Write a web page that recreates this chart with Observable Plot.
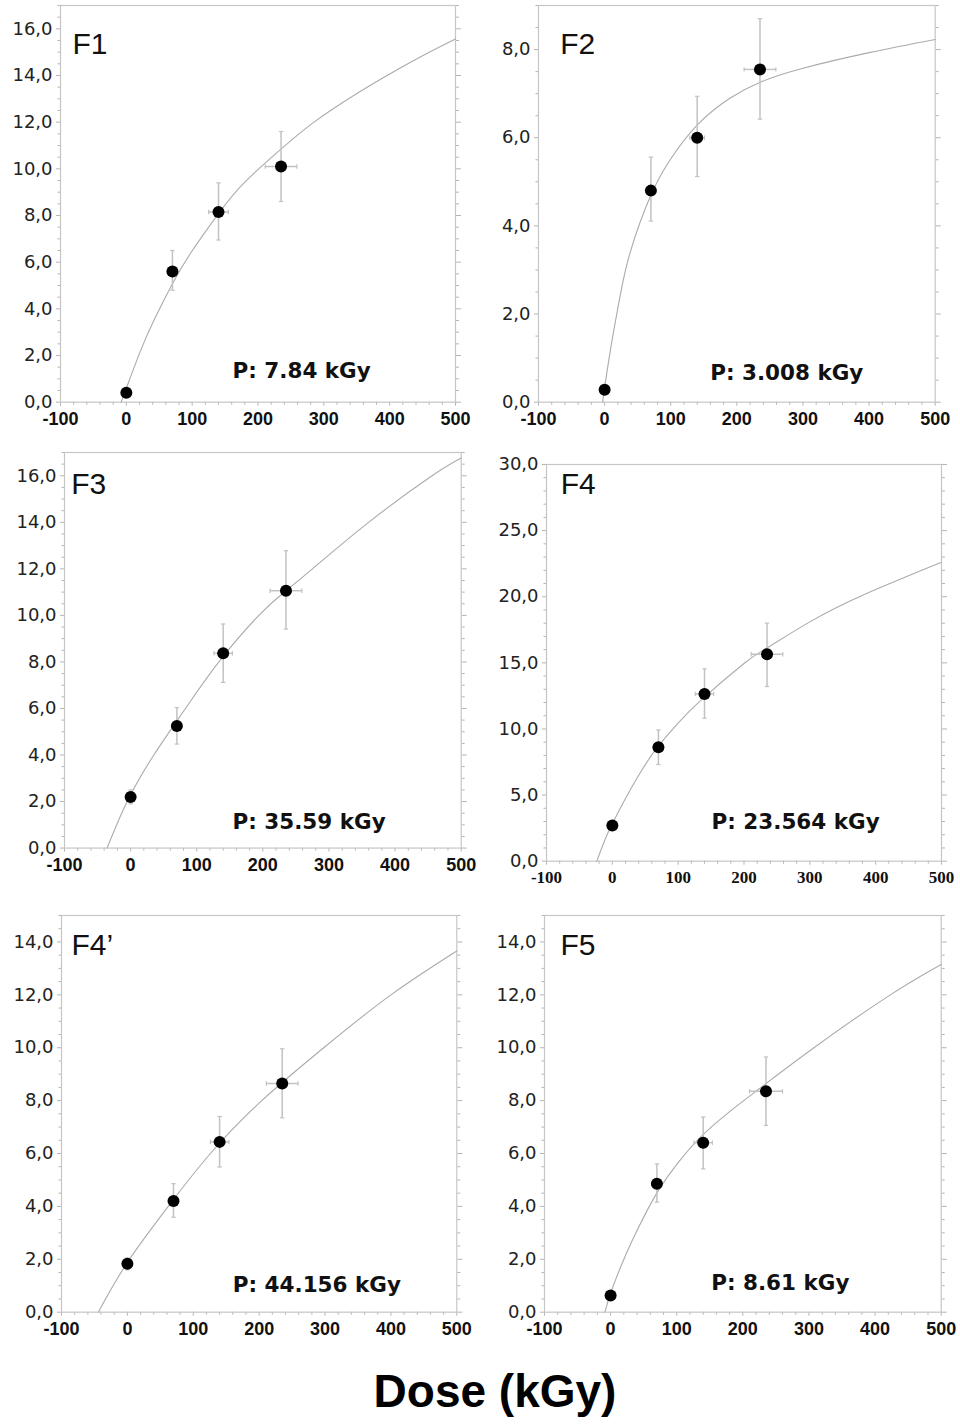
<!DOCTYPE html>
<html>
<head>
<meta charset="utf-8">
<script src="https://cdn.jsdelivr.net/npm/d3@7"></script>
<script src="https://cdn.jsdelivr.net/npm/@observablehq/plot@0.6"></script>
<style>
  html, body { margin: 0; padding: 0; background: #fff; }
  #chart { position: relative; width: 960px; height: 1427px; overflow: hidden; background: #fff; }
  .panel { position: absolute; }
  #xlabel { position: absolute; left: 0; width: 990px; top: 1368px; text-align: center;
            font-family: "Liberation Sans", Arial, sans-serif; font-weight: bold; font-size: 46px; line-height: 46px; color: #000; }
</style>
</head>
<body>
<div id="chart"><div id="xlabel">Dose (kGy)</div></div>
<script>
// ---------- data ----------
const dose = [0, 70, 140, 235];
const panelNames = ["F1", "F2", "F3", "F4", "F4’", "F5"];
const paleodose = ["P: 7.84 kGy", "P: 3.008 kGy", "P: 35.59 kGy", "P: 23.564 kGy", "P: 44.156 kGy", "P: 8.61 kGy"];
const xTicks = [-100, 0, 100, 200, 300, 400, 500];
const yMax = [17, 9, 17, 30, 15, 15];
const yTicks = [
  [0, 2, 4, 6, 8, 10, 12, 14, 16],
  [0, 2, 4, 6, 8],
  [0, 2, 4, 6, 8, 10, 12, 14, 16],
  [0, 5, 10, 15, 20, 25, 30],
  [0, 2, 4, 6, 8, 10, 12, 14],
  [0, 2, 4, 6, 8, 10, 12, 14]
];
const yMinorStep = [0.5, 0.5, 0.5, 1, 0.5, 0.5];

// signal values (mean), error bar low/high, dose error
const signalF1 = [0.4, 5.6, 8.15, 10.1];
const lowF1 = [null, 4.8, 6.95, 8.6];
const highF1 = [null, 6.5, 9.4, 11.6];
const doseErrF1 = [0, 0, 15, 24];

const signalF2 = [0.28, 4.8, 6.0, 7.55];
const lowF2 = [null, 4.11, 5.12, 6.42];
const highF2 = [null, 5.56, 6.94, 8.7];
const doseErrF2 = [0, 0, 11, 24];

const signalF3 = [2.2, 5.25, 8.37, 11.06];
const lowF3 = [1.9, 4.47, 7.12, 9.41];
const highF3 = [2.5, 6.04, 9.63, 12.78];
const doseErrF3 = [0, 0, 14, 24];

const signalF4 = [2.7, 8.62, 12.65, 15.65];
const lowF4 = [null, 7.31, 10.81, 13.21];
const highF4 = [null, 9.93, 14.55, 18.0];
const doseErrF4 = [0, 0, 14, 24];

const signalF4p = [1.83, 4.2, 6.44, 8.65];
const lowF4p = [1.6, 3.59, 5.49, 7.35];
const highF4p = [2.05, 4.86, 7.4, 9.96];
const doseErrF4p = [0, 0, 14, 24];

const signalF5 = [0.63, 4.86, 6.41, 8.35];
const lowF5 = [null, 4.16, 5.42, 7.06];
const highF5 = [null, 5.61, 7.38, 9.65];
const doseErrF5 = [0, 0, 14, 25];

// fitted curves
const fitDoseF1 = [-7.84, 0, 21.5, 41.8, 69.6, 97.5, 140.5, 178.5, 234, 285, 340, 396, 450, 500];
const fitSigF1 = [0, 0.6, 2.2, 3.5, 5.05, 6.38, 8.1, 9.39, 10.82, 12.0, 13.05, 14.0, 14.85, 15.57];
const fitDoseF2 = [-3.008, 0.9, 11, 23.6, 38.7, 68.9, 99.2, 139.6, 190, 235.4, 296, 400, 500];
const fitSigF2 = [0, 0.42, 1.38, 2.42, 3.4, 4.66, 5.5, 6.28, 6.9, 7.26, 7.56, 7.93, 8.23];
const fitDoseF3 = [-35.59, -5.2, 35.1, 83, 133.5, 194, 235, 275, 360, 456, 500];
const fitSigF3 = [0, 2, 4, 6, 8, 10, 11.06, 12, 14, 16, 16.76];
const fitDoseF4 = [-23.56, -7.3, 12.9, 38.2, 68.6, 99, 134.4, 200, 234, 300, 382, 500];
const fitSigF4 = [0, 2.07, 4.08, 6.35, 8.62, 10.39, 12.16, 14.95, 16.1, 18.1, 20.15, 22.6];
const fitDoseF4p = [-44.16, 0, 62, 126, 204, 298, 400, 500];
const fitSigF4p = [0, 1.88, 4, 6, 8, 10, 12, 13.66];
const fitDoseF5 = [-8.61, -0.2, 15, 32.7, 55.3, 75.5, 100.7, 136, 176.4, 221.7, 307.5, 423, 500];
const fitSigF5 = [0, 0.7, 1.7, 2.71, 3.85, 4.73, 5.61, 6.62, 7.51, 8.39, 10, 12, 13.15];

const series = [
  [signalF1, lowF1, highF1, doseErrF1, fitDoseF1, fitSigF1],
  [signalF2, lowF2, highF2, doseErrF2, fitDoseF2, fitSigF2],
  [signalF3, lowF3, highF3, doseErrF3, fitDoseF3, fitSigF3],
  [signalF4, lowF4, highF4, doseErrF4, fitDoseF4, fitSigF4],
  [signalF4p, lowF4p, highF4p, doseErrF4p, fitDoseF4p, fitSigF4p],
  [signalF5, lowF5, highF5, doseErrF5, fitDoseF5, fitSigF5]
];

// ---------- layout (page positions of each plot frame, label offsets) ----------
const frames = [
  {left: 60,    top: 5,     right: 455,   bottom: 401.7,  nameDx: 12,   nameDy: 48.3, pDx: 172,   pDy: 23.7, serif: false},
  {left: 538.3, top: 5,     right: 935,   bottom: 401.7,  nameDx: 21.7, nameDy: 48.3, pDx: 171.7, pDy: 21.7, serif: false},
  {left: 64,    top: 451.7, right: 460.7, bottom: 847.3,  nameDx: 6.7,  nameDy: 41.6, pDx: 168,   pDy: 19,   serif: false},
  {left: 545.7, top: 464,   right: 940.7, bottom: 860.7,  nameDx: 14.3, nameDy: 29.3, pDx: 165,   pDy: 32.4, serif: true},
  {left: 60.7,  top: 915,   right: 456,   bottom: 1311.7, nameDx: 10,   nameDy: 40,   pDx: 171.3, pDy: 20,   serif: false},
  {left: 544,   top: 915,   right: 940.7, bottom: 1311.7, nameDx: 16,   nameDy: 40,   pDx: 166.7, pDy: 21.7, serif: false}
];

const hcap = {draw(ctx, size) { const r = Math.sqrt(size / Math.PI); ctx.moveTo(-r, 0); ctx.lineTo(r, 0); }};
const vcap = {draw(ctx, size) { const r = Math.sqrt(size / Math.PI); ctx.moveTo(0, -r); ctx.lineTo(0, r); }};

const chart = document.getElementById("chart");
const mL = 60, mR = 25, mT = 5, mB = 35;
const frameColor = "#c6c6c6", tickColor = "#b4b4b4", errColor = "#c2c2c2";

frames.forEach((f, i) => {
  const [sig, lo, hi, xe, fx, fy] = series[i];
  const pts = dose.map((d, j) => ({x: d, y: sig[j], lo: lo[j], hi: hi[j], xe: xe[j]}));
  const vErr = pts.filter(d => d.lo != null);
  const hErr = pts.filter(d => d.xe > 0);
  const fit = fx.map((x, j) => ({x, y: fy[j]}));
  const xMinor = d3.range(-100, 500.1, 20).filter(v => !xTicks.includes(v));
  const yMinor = d3.range(0, yMax[i] + 1e-9, yMinorStep[i]).filter(v => !yTicks[i].includes(v));
  const fw = f.right - f.left, fh = f.bottom - f.top;
  const xFont = f.serif ? {fontFamily: "'Liberation Serif', 'Times New Roman', serif", fontSize: 17} : {fontFamily: "'Liberation Sans', Arial, sans-serif", fontSize: 18};

  const svg = Plot.plot({
    width: fw + mL + mR,
    height: fh + mT + mB,
    marginLeft: mL, marginRight: mR, marginTop: mT, marginBottom: mB,
    x: {domain: [-100, 500]},
    y: {domain: [0, yMax[i]]},
    style: {overflow: "visible", background: "transparent"},
    marks: [
      Plot.axisX({ticks: xTicks, tickSize: 4, tickPadding: 6, tickFormat: d => String(d), fontWeight: "bold", ...xFont, stroke: tickColor, fill: "#111", label: null}),
      Plot.axisX({ticks: xMinor, tickSize: 3, tickFormat: () => "", stroke: tickColor, label: null}),
      Plot.axisY({ticks: yTicks[i], tickSize: 4, tickPadding: 4, tickFormat: d => d.toFixed(1).replace(".", ","), fontFamily: "'DejaVu Sans', sans-serif", fontSize: 18, stroke: tickColor, fill: "#222", label: null}),
      Plot.axisY({ticks: yMinor, tickSize: 2.5, tickFormat: () => "", stroke: tickColor, label: null}),
      Plot.axisY({anchor: "right", ticks: yTicks[i], tickSize: 5, tickFormat: () => "", stroke: tickColor, label: null}),
      Plot.axisY({anchor: "right", ticks: yMinor, tickSize: 3, tickFormat: () => "", stroke: tickColor, label: null}),
      Plot.frame({stroke: frameColor, strokeWidth: 1.2}),
      Plot.line(fit, {x: "x", y: "y", stroke: "#ababab", strokeWidth: 1.1, curve: "natural"}),
      Plot.link(vErr, {x1: "x", x2: "x", y1: "lo", y2: "hi", stroke: errColor, strokeWidth: 1.5}),
      Plot.dot(vErr, {x: "x", y: "lo", symbol: hcap, r: 2.2, stroke: errColor, strokeWidth: 1.2, fill: "none"}),
      Plot.dot(vErr, {x: "x", y: "hi", symbol: hcap, r: 2.2, stroke: errColor, strokeWidth: 1.2, fill: "none"}),
      Plot.link(hErr, {x1: d => d.x - d.xe, x2: d => d.x + d.xe, y1: "y", y2: "y", stroke: errColor, strokeWidth: 1.5}),
      Plot.dot(hErr, {x: d => d.x - d.xe, y: "y", symbol: vcap, r: 2.2, stroke: errColor, strokeWidth: 1.2, fill: "none"}),
      Plot.dot(hErr, {x: d => d.x + d.xe, y: "y", symbol: vcap, r: 2.2, stroke: errColor, strokeWidth: 1.2, fill: "none"}),
      Plot.dot(pts, {x: "x", y: "y", r: 6, fill: "#000", stroke: "none"}),
      Plot.text([panelNames[i]], {frameAnchor: "top-left", dx: f.nameDx, dy: f.nameDy, lineAnchor: "bottom", textAnchor: "start",
        fontFamily: "'Liberation Sans', Arial, sans-serif", fontSize: 30, fill: "#111"}),
      Plot.text([paleodose[i]], {frameAnchor: "bottom-left", dx: f.pDx, dy: -f.pDy, lineAnchor: "bottom", textAnchor: "start",
        fontFamily: "'DejaVu Sans', sans-serif", fontWeight: "bold", fontSize: 21.5, fill: "#111"})
    ]
  });
  svg.classList.add("panel");
  svg.style.left = (f.left - mL) + "px";
  svg.style.top = (f.top - mT) + "px";
  chart.appendChild(svg);
});
</script>
</body>
</html>
